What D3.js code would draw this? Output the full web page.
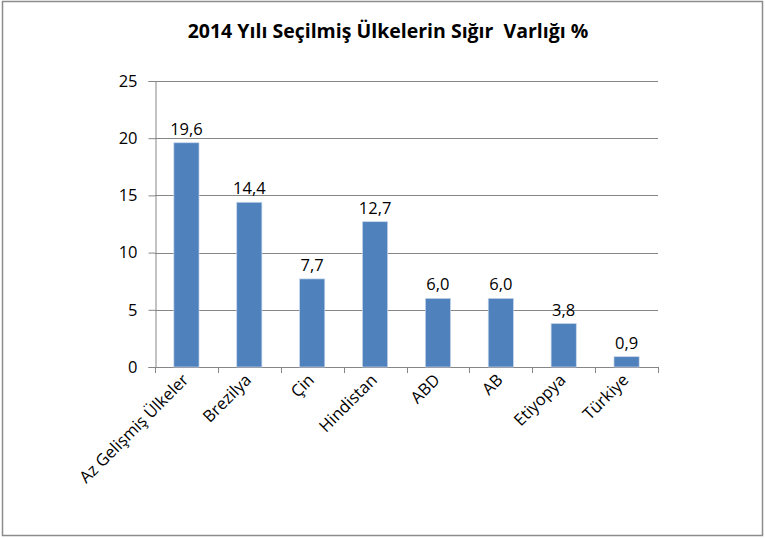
<!DOCTYPE html>
<html>
<head>
<meta charset="utf-8">
<script src="https://cdn.jsdelivr.net/npm/d3@7"></script>
<style>
  body { margin: 0; background: #fff; }
  text { font-family: "Open Sans", sans-serif; fill: #000; }
</style>
</head>
<body>
<div id="chart"></div>
<script>
// Chart data
const countries = ["Az Gelişmiş Ülkeler", "Brezilya", "Çin", "Hindistan", "ABD", "AB", "Etiyopya", "Türkiye"];
const shares = [19.6, 14.4, 7.7, 12.7, 6.0, 6.0, 3.8, 0.9];
const yTicks = [0, 5, 10, 15, 20, 25];

const width = 765, height = 538;
const plot = { left: 155, right: 658, top: 81, bottom: 367 };

const svg = d3.select("#chart").append("svg")
  .attr("width", width)
  .attr("height", height);

// outer frame
svg.append("rect")
  .attr("x", 2.5).attr("y", 1.5)
  .attr("width", 760).attr("height", 534)
  .attr("fill", "none")
  .attr("stroke", "#8c8c8c")
  .attr("stroke-width", 1.5);

// title
svg.append("text")
  .attr("x", 388).attr("y", 38)
  .attr("text-anchor", "middle")
  .style("font-size", "19.5px")
  .style("font-weight", "bold")
  .style("white-space", "pre")
  .text("2014 Yılı Seçilmiş Ülkelerin Sığır  Varlığı %");

const x = d3.scaleBand()
  .domain(countries)
  .range([plot.left, plot.right])
  .paddingInner(0.6)
  .paddingOuter(0.3);

const y = d3.scaleLinear()
  .domain([0, 25])
  .range([plot.bottom, plot.top]);

// gridlines
svg.append("g")
  .selectAll("line")
  .data(yTicks.filter(d => d > 0))
  .join("line")
  .attr("x1", plot.left).attr("x2", plot.right)
  .attr("y1", d => Math.round(y(d)) + 0.5)
  .attr("y2", d => Math.round(y(d)) + 0.5)
  .attr("stroke", "#868686");

// y axis
const yAxis = svg.append("g")
  .attr("transform", `translate(${plot.left + 0.5},0)`)
  .call(d3.axisLeft(y).tickValues(yTicks).tickSize(7).tickPadding(11).tickFormat(d3.format("d")));
yAxis.selectAll("path, line").attr("stroke", "#868686");
yAxis.selectAll("text").style("font-size", "16.5px").style("font-family", "'Open Sans', sans-serif");

// x axis with ticks on category boundaries
const step = (plot.right - plot.left) / countries.length;
const xAxisG = svg.append("g");
xAxisG.append("line")
  .attr("x1", plot.left).attr("x2", plot.right)
  .attr("y1", plot.bottom + 0.5).attr("y2", plot.bottom + 0.5)
  .attr("stroke", "#868686");
xAxisG.selectAll(".xt")
  .data(d3.range(countries.length + 1))
  .join("line")
  .attr("class", "xt")
  .attr("x1", i => Math.round(plot.left + i * step) + 0.5)
  .attr("x2", i => Math.round(plot.left + i * step) + 0.5)
  .attr("y1", plot.bottom)
  .attr("y2", plot.bottom + 6)
  .attr("stroke", "#868686");

// bars
svg.append("g")
  .selectAll("rect")
  .data(countries)
  .join("rect")
  .attr("x", d => x(d))
  .attr("width", x.bandwidth())
  .attr("y", (d, i) => y(shares[i]))
  .attr("height", (d, i) => y(0) - y(shares[i]))
  .attr("fill", "#4f81bd")
  .attr("stroke", "#c6d5ea")
  .attr("stroke-width", 0.7);

// value labels
svg.append("g")
  .selectAll("text")
  .data(countries)
  .join("text")
  .attr("x", d => x(d) + x.bandwidth() / 2)
  .attr("y", (d, i) => y(shares[i]) - 8)
  .attr("text-anchor", "middle")
  .style("font-size", "16.5px")
  .text((d, i) => d3.format(".1f")(shares[i]).replace(".", ","));

// category labels, rotated
svg.append("g")
  .selectAll("text")
  .data(countries)
  .join("text")
  .attr("transform", d => `translate(${x(d) + x.bandwidth() / 2 + 3},${plot.bottom + 14}) rotate(-45)`)
  .attr("text-anchor", "end")
  .style("font-size", "16.5px")
  .text(d => d);
</script>
</body>
</html>
